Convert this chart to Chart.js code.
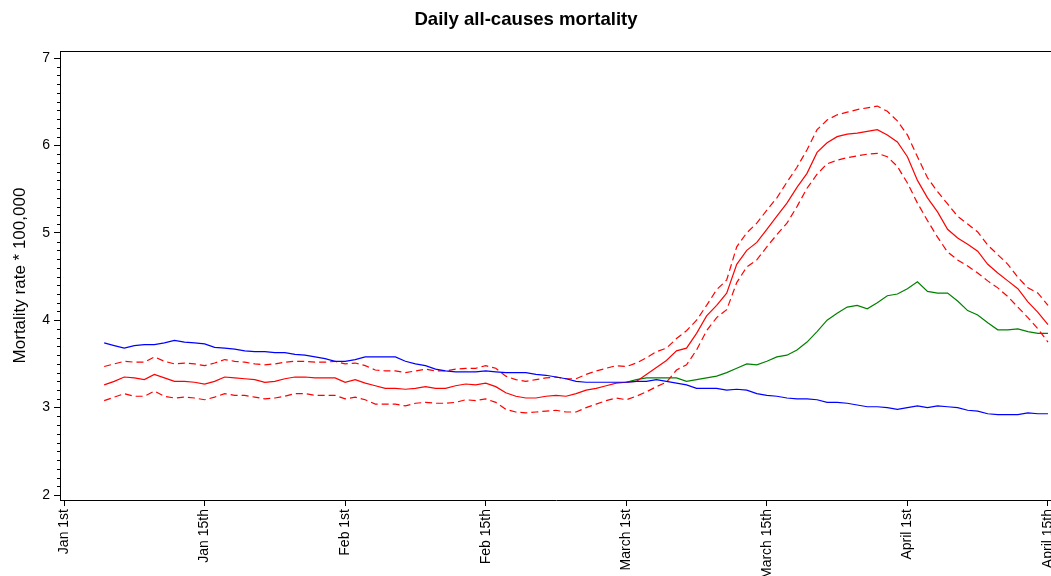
<!DOCTYPE html>
<html>
<head>
<meta charset="utf-8">
<title>Daily all-causes mortality</title>
<script src="https://cdn.jsdelivr.net/npm/chart.js@4/dist/chart.umd.min.js"></script>
<style>
  html, body { margin: 0; padding: 0; background: #fff; overflow: hidden; }
  #wrap { width: 1062px; height: 600px; }
</style>
</head>
<body>
<div id="wrap"><canvas id="chart" width="1062" height="600"></canvas></div>
<script>
// x = day index (0 = Jan 1st, ticks every 14 positions)
const tickDays   = [0, 14, 28, 42, 56, 70, 84, 98];
const tickLabels = ['Jan 1st', 'Jan 15th', 'Feb 1st', 'Feb 15th', 'March 1st', 'March 15th', 'April 1st', 'April 15th'];
const yTicks     = [2, 3, 4, 5, 6, 7];

const firstDay      = 4;   // red + blue series start
const firstDayGreen = 56;  // green series starts at March 1st

const redMid = [
  3.26,3.30,3.35,3.34,3.32,3.38,3.34,3.30,3.30,3.29,
  3.27,3.30,3.35,3.34,3.33,3.32,3.29,3.30,3.33,3.35,
  3.35,3.34,3.34,3.34,3.29,3.32,3.28,3.25,3.22,3.22,
  3.21,3.22,3.24,3.22,3.22,3.25,3.27,3.26,3.28,3.24,
  3.17,3.13,3.11,3.11,3.13,3.14,3.13,3.16,3.20,3.22,
  3.25,3.28,3.29,3.30,3.38,3.46,3.54,3.65,3.68,3.85,
  4.05,4.17,4.31,4.64,4.80,4.89,5.04,5.19,5.34,5.52,
  5.68,5.92,6.03,6.10,6.13,6.14,6.16,6.18,6.12,6.04,
  5.87,5.60,5.40,5.24,5.04,4.94,4.87,4.79,4.64,4.54,
  4.45,4.36,4.21,4.09,3.95
];
const redUpper = [
  3.47,3.50,3.53,3.52,3.52,3.58,3.53,3.50,3.51,3.50,
  3.48,3.51,3.55,3.53,3.52,3.50,3.49,3.50,3.52,3.53,
  3.53,3.52,3.52,3.53,3.50,3.51,3.48,3.43,3.42,3.42,
  3.40,3.42,3.44,3.42,3.42,3.44,3.45,3.45,3.48,3.45,
  3.36,3.32,3.30,3.32,3.34,3.35,3.33,3.33,3.38,3.42,
  3.45,3.48,3.47,3.51,3.57,3.64,3.68,3.79,3.88,4.00,
  4.17,4.35,4.46,4.84,5.00,5.11,5.26,5.40,5.58,5.75,
  5.95,6.18,6.29,6.35,6.38,6.41,6.43,6.45,6.39,6.28,
  6.12,5.87,5.63,5.47,5.33,5.19,5.10,5.01,4.86,4.75,
  4.64,4.49,4.37,4.31,4.17
];
const redLower = [
  3.08,3.12,3.16,3.13,3.13,3.19,3.13,3.11,3.12,3.11,
  3.09,3.12,3.16,3.14,3.14,3.12,3.10,3.11,3.13,3.16,
  3.16,3.14,3.14,3.14,3.10,3.12,3.09,3.04,3.04,3.04,
  3.02,3.05,3.06,3.05,3.05,3.06,3.09,3.08,3.10,3.06,
  2.98,2.95,2.94,2.95,2.96,2.97,2.95,2.95,3.00,3.04,
  3.08,3.11,3.09,3.13,3.18,3.24,3.29,3.43,3.49,3.66,
  3.88,4.03,4.12,4.43,4.61,4.69,4.84,4.98,5.11,5.30,
  5.51,5.67,5.79,5.83,5.86,5.88,5.90,5.91,5.87,5.76,
  5.57,5.34,5.14,4.95,4.78,4.69,4.62,4.54,4.45,4.37,
  4.27,4.15,4.03,3.90,3.75
];
const blueLine = [
  3.74,3.71,3.68,3.71,3.72,3.72,3.74,3.77,3.75,3.74,
  3.73,3.69,3.68,3.67,3.65,3.64,3.64,3.63,3.63,3.61,
  3.60,3.58,3.56,3.53,3.53,3.55,3.58,3.58,3.58,3.58,
  3.53,3.50,3.48,3.44,3.42,3.41,3.41,3.41,3.42,3.41,
  3.40,3.40,3.40,3.38,3.37,3.35,3.33,3.30,3.29,3.29,
  3.29,3.29,3.29,3.30,3.30,3.32,3.30,3.28,3.26,3.22,
  3.22,3.22,3.20,3.21,3.20,3.16,3.14,3.13,3.11,3.10,
  3.10,3.09,3.06,3.06,3.05,3.03,3.01,3.01,3.00,2.98,
  3.00,3.02,3.00,3.02,3.01,3.00,2.97,2.96,2.93,2.92,
  2.92,2.92,2.94,2.93,2.93
];
const greenLine = [
  3.29,3.32,3.34,3.34,3.34,3.34,3.30,3.32,3.34,3.36,
  3.40,3.45,3.50,3.49,3.53,3.58,3.60,3.66,3.75,3.87,
  4.00,4.08,4.15,4.17,4.13,4.20,4.28,4.30,4.36,4.44,
  4.33,4.31,4.31,4.22,4.11,4.06,3.97,3.89,3.89,3.90,
  3.87,3.85,3.85
];

const FONT = '"Liberation Sans", Arial, Helvetica, sans-serif';

function toPoints(values, start) {
  return values.map((v, i) => ({ x: start + i, y: v }));
}

function lineSet(values, start, color, dashed) {
  return {
    data: toPoints(values, start),
    borderColor: color,
    borderWidth: 1.2,
    borderDash: dashed ? [7, 4] : [],
    pointRadius: 0,
    tension: 0,
    fill: false,
  };
}

// frame top edge + minor y ticks
const framePlugin = {
  id: 'frame',
  afterDraw(chart) {
    const { ctx, chartArea } = chart;
    const y = chart.scales.y;
    const left = Math.round(chartArea.left);
    ctx.save();
    ctx.strokeStyle = '#000';
    ctx.lineWidth = 1;
    ctx.beginPath();
    const top = Math.round(chartArea.top) + 0.5;
    ctx.moveTo(left, top);
    ctx.lineTo(chartArea.right, top);
    for (let k = 20; k <= 70; k++) {
      if (k % 10 === 0) continue;
      const py = Math.round(y.getPixelForValue(k / 10)) + 0.5;
      ctx.moveTo(left - 3, py);
      ctx.lineTo(left, py);
    }
    ctx.stroke();
    ctx.restore();
  }
};

new Chart(document.getElementById('chart'), {
  type: 'line',
  data: {
    datasets: [
      lineSet(blueLine, firstDay, '#0000ff', false),
      lineSet(redUpper, firstDay, '#ff0000', true),
      lineSet(redLower, firstDay, '#ff0000', true),
      lineSet(redMid, firstDay, '#ff0000', false),
      lineSet(greenLine, firstDayGreen, '#008000', false),
    ]
  },
  options: {
    responsive: false,
    animation: false,
    devicePixelRatio: 1,
    layout: { padding: { left: 0, right: 10, top: 0, bottom: 0 } },
    plugins: {
      legend: { display: false },
      tooltip: { enabled: false },
      title: {
        display: true,
        text: 'Daily all-causes mortality',
        color: '#000',
        font: { family: FONT, size: 18.6, weight: 'bold' },
        padding: { top: 9, bottom: 19.7 }
      }
    },
    scales: {
      x: {
        type: 'linear',
        min: -0.4,
        max: 98.4,
        afterBuildTicks: s => { s.ticks = tickDays.map(v => ({ value: v })); },
        afterFit: s => { s.height = 100; s.paddingLeft = 0; s.paddingRight = 0; },
        grid: { display: true, drawOnChartArea: false, color: '#000', tickLength: 6, tickColor: '#000' },
        border: { display: true, color: '#000', width: 1 },
        ticks: {
          autoSkip: false,
          minRotation: 90,
          maxRotation: 90,
          padding: 3,
          color: '#000',
          font: { family: FONT, size: 14 },
          callback: v => tickLabels[tickDays.indexOf(v)]
        }
      },
      y: {
        min: 1.943,
        max: 7.08,
        afterBuildTicks: s => { s.ticks = yTicks.map(v => ({ value: v })); },
        afterFit: s => { s.width = 60; s.paddingTop = 0; s.paddingBottom = 0; },
        grid: { display: true, drawOnChartArea: false, color: '#000', tickLength: 6, tickColor: '#000' },
        border: { display: true, color: '#000', width: 1 },
        ticks: {
          padding: 4,
          color: '#000',
          font: { family: FONT, size: 14 },
          callback: v => String(v)
        },
        title: {
          display: true,
          text: 'Mortality rate * 100,000',
          color: '#000',
          font: { family: FONT, size: 17 },
          padding: { top: 10, bottom: 0 }
        }
      }
    }
  },
  plugins: [framePlugin]
});
</script>
</body>
</html>
